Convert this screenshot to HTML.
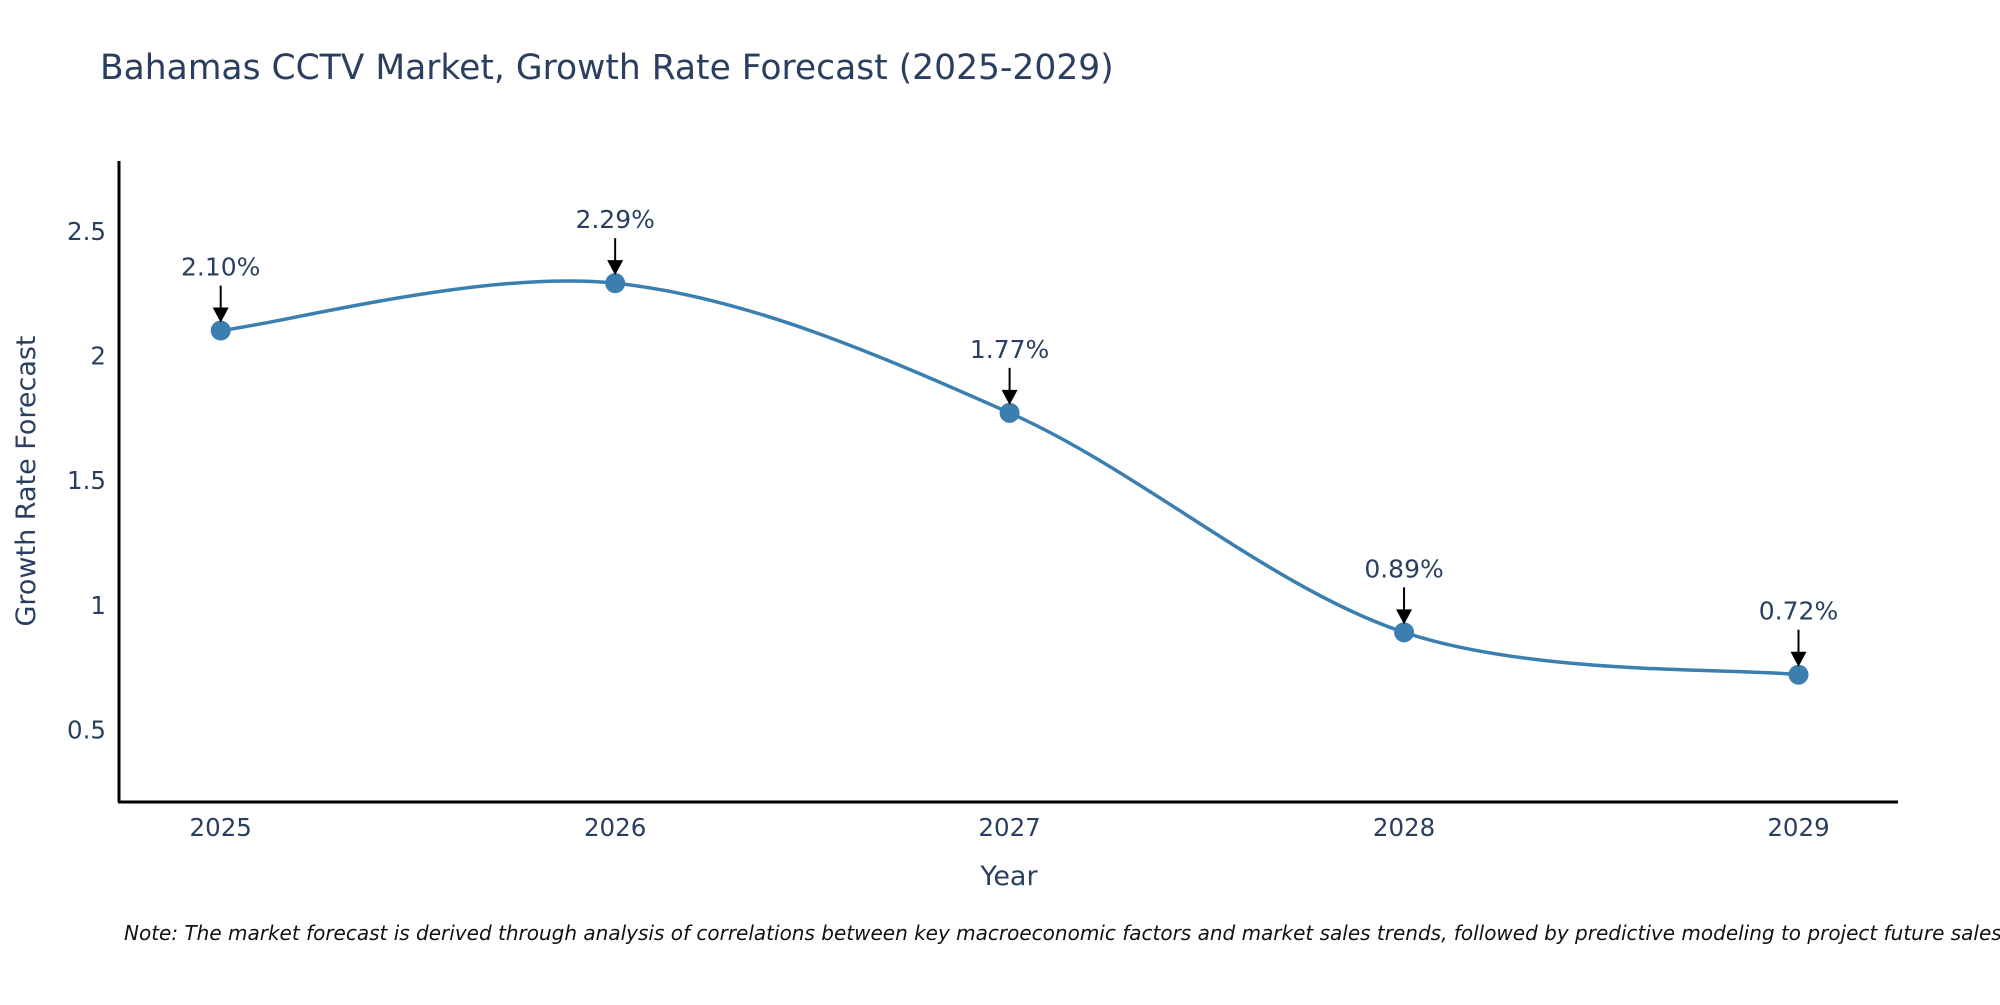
<!DOCTYPE html>
<html><head><meta charset="utf-8"><style>
body{margin:0;background:#fff;font-family:"Liberation Sans","DejaVu Sans",sans-serif}
</style></head><body>
<svg id="chart" width="2000" height="1000" viewBox="0 0 2000 1000" xmlns="http://www.w3.org/2000/svg" style="font-family:'DejaVu Sans','Liberation Sans',sans-serif">
<text x="100" y="79" font-size="34.5" fill="#2a3f5f">Bahamas CCTV Market, Growth Rate Forecast (2025-2029)</text>
<g id="plot"></g>
<line x1="119" y1="161" x2="119" y2="802" stroke="#000" stroke-width="3"/>
<line x1="118" y1="802" x2="1898" y2="802" stroke="#000" stroke-width="3"/>
<text x="1009" y="885" font-size="27" fill="#2a3f5f" text-anchor="middle">Year</text>
<text transform="translate(35,481) rotate(-90)" font-size="27" fill="#2a3f5f" text-anchor="middle">Growth Rate Forecast</text>
<text x="124" y="940" font-size="20" font-style="italic" fill="#111">Note: The market forecast is derived through analysis of correlations between key macroeconomic factors and market sales trends, followed by predictive modeling to project future sales.</text>
</svg>
<script>
const years=["2025","2026","2027","2028","2029"];
const values=[2.10,2.29,1.77,0.89,0.72];
const labels=["2.10%","2.29%","1.77%","0.89%","0.72%"];
const yTicks=[0.5,1,1.5,2,2.5];
const yTickLabels=["0.5","1","1.5","2","2.5"];
const NS="http://www.w3.org/2000/svg";
const g=document.getElementById('plot');
const xs=i=>220.7+i*(1798.5-220.7)/4;
const ys=v=>729.6-(v-0.5)*249.4;
function mk(t,a){const e=document.createElementNS(NS,t);for(const k in a)e.setAttribute(k,a[k]);g.appendChild(e);return e;}
yTicks.forEach((v,i)=>{const t=mk('text',{x:106,y:ys(v)+9,'font-size':24.5,fill:'#2a3f5f','text-anchor':'end'});t.textContent=yTickLabels[i];

});
years.forEach((y,i)=>{const t=mk('text',{x:xs(i),y:836,'font-size':24.5,fill:'#2a3f5f','text-anchor':'middle'});t.textContent=y;

});
const P=values.map((v,i)=>[xs(i),ys(v)]);
let d=`M${P[0][0]},${P[0][1]}`;
for(let i=0;i<P.length-1;i++){const p0=P[i-1]||P[i],p1=P[i],p2=P[i+1],p3=P[i+2]||p2;const s=1/6;
d+=` C${p1[0]+(p2[0]-p0[0])*s},${p1[1]+(p2[1]-p0[1])*s} ${p2[0]-(p3[0]-p1[0])*s},${p2[1]-(p3[1]-p1[1])*s} ${p2[0]},${p2[1]}`;}
const line=mk('path',{d:d,fill:'none',stroke:'#3b7fb0','stroke-width':3.5});


values.forEach((v,i)=>{const x=xs(i),y=ys(v);
const c=mk('circle',{cx:x,cy:y,r:10,fill:'#3b7fb0'});


const a=mk('line',{x1:x,y1:y-45,x2:x,y2:y-20,stroke:'#000','stroke-width':2});


const h=mk('path',{d:`M${x-8},${y-23} L${x+8},${y-23} L${x},${y-8} Z`,fill:'#000'});


const t=mk('text',{x:x,y:y-55,'font-size':25,fill:'#2a3f5f','text-anchor':'middle'});t.textContent=labels[i];

});
</script>
</body></html>
